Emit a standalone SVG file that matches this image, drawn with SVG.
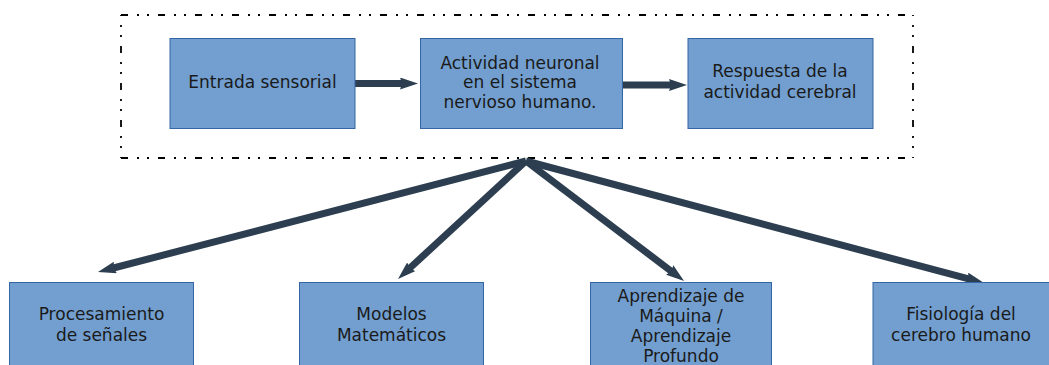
<svg xmlns="http://www.w3.org/2000/svg" width="1049" height="365" viewBox="0 0 1049 365">
  <style>
    .box { fill: #729fcf; stroke: #3465a4; stroke-width: 1; }
    .lbl { font-family: "DejaVu Sans", "Liberation Sans", sans-serif; font-size: 17px; fill: #1a1a1a; text-anchor: middle; }
    .conn { stroke: #2c3e50; stroke-width: 7; fill: none; marker-end: url(#head); }
    .frame { fill: none; stroke: #000; stroke-width: 1.8; stroke-dasharray: 7 9 2 8 2 9; }
  </style>
  <defs>
    <marker id="head" viewBox="0 0 18 12" refX="4" refY="6" markerWidth="18" markerHeight="12" markerUnits="userSpaceOnUse" orient="auto">
      <path d="M0,0 L18,6 L0,12 L2,6 Z" fill="#2c3e50"/>
    </marker>
  </defs>

  <!-- dash-dot-dot frame, each side drawn from the top-left corner outward -->
  <g id="frame">
    <path class="frame" d="M121,15 H913"/>
    <path class="frame" d="M121,15 V158" stroke-dashoffset="6"/>
    <path class="frame" d="M121,158 H913"/>
    <path class="frame" d="M913,15 V158" stroke-dashoffset="6"/>
  </g>

  <g id="connectors">
    <line class="conn" x1="355" y1="83.5" x2="404" y2="83.5"/>
    <line class="conn" x1="623" y1="85" x2="673" y2="85"/>
    <line class="conn" x1="526" y1="161" x2="111.5" y2="268.5"/>
    <line class="conn" x1="526" y1="161" x2="408.3" y2="269.5"/>
    <line class="conn" x1="526" y1="161" x2="672.9" y2="272.5"/>
    <line class="conn" x1="526" y1="161" x2="970.5" y2="279.4"/>
  </g>

  <g id="entrada">
    <rect class="box" x="170" y="38.5" width="185" height="90"/>
    <text class="lbl" x="262.5" y="88">Entrada sensorial</text>
  </g>
  <g id="actividad">
    <rect class="box" x="420.5" y="38.5" width="202" height="90"/>
    <text class="lbl" x="520" y="68.5">Actividad neuronal</text>
    <text class="lbl" x="520" y="88">en el sistema</text>
    <text class="lbl" x="520" y="107.5">nervioso humano.</text>
  </g>
  <g id="respuesta">
    <rect class="box" x="688" y="38.5" width="185" height="90"/>
    <text class="lbl" x="780" y="77">Respuesta de la</text>
    <text class="lbl" x="780" y="98">actividad cerebral</text>
  </g>

  <g id="procesamiento">
    <rect class="box" x="9.5" y="282.5" width="184" height="90"/>
    <text class="lbl" x="101.5" y="320">Procesamiento</text>
    <text class="lbl" x="101.5" y="341">de señales</text>
  </g>
  <g id="modelos">
    <rect class="box" x="299.5" y="282.5" width="184" height="90"/>
    <text class="lbl" x="391.5" y="320">Modelos</text>
    <text class="lbl" x="391.5" y="341">Matemáticos</text>
  </g>
  <g id="aprendizaje">
    <rect class="box" x="590.5" y="282.5" width="181" height="90"/>
    <text class="lbl" x="681" y="302">Aprendizaje de</text>
    <text class="lbl" x="681" y="322">Máquina /</text>
    <text class="lbl" x="681" y="342">Aprendizaje</text>
    <text class="lbl" x="681" y="362">Profundo</text>
  </g>
  <g id="fisiologia">
    <rect class="box" x="873" y="282.5" width="180" height="90"/>
    <text class="lbl" x="961" y="320">Fisiología del</text>
    <text class="lbl" x="961" y="341">cerebro humano</text>
  </g>
</svg>
